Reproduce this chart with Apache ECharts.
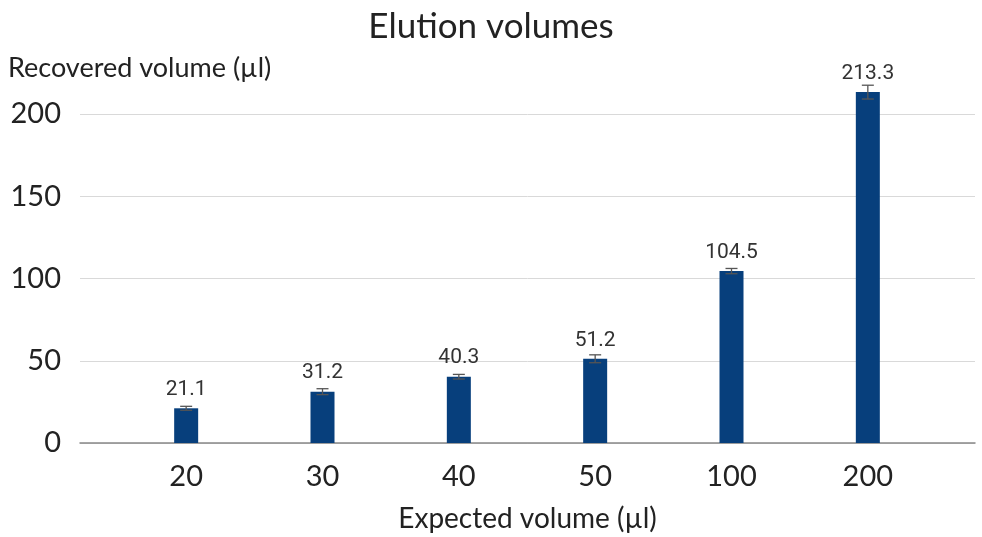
<!DOCTYPE html>
<html><head><meta charset="utf-8">
<script src="https://cdn.jsdelivr.net/npm/echarts@6/dist/echarts.min.js"></script>
<style>html,body{margin:0;padding:0;background:#fff}#c{width:982px;height:537px}</style>
</head><body><div id="c"></div>
<script>
const categories = ['20', '30', '40', '50', '100', '200'];
const recovered = [21.1, 31.2, 40.3, 51.2, 104.5, 213.3];
const errors = [1.2, 1.8, 1.4, 2.4, 1.6, 4.2];
const yTicks = [0, 50, 100, 150, 200];

const chart = echarts.init(document.getElementById('c'));
const font = 'Lato, "Open Sans", sans-serif';
chart.setOption({
  animation: false,
  title: {
    text: 'Elution volumes', left: 'center', top: 4,
    textStyle: { fontFamily: font, fontSize: 35, fontWeight: 'normal', color: '#222' }
  },
  grid: [
    { left: 80, right: 7, top: 114, bottom: 94, outerBoundsMode: 'none', containLabel: false },
    { left: 118, right: 46, top: 114, bottom: 94, outerBoundsMode: 'none', containLabel: false }
  ],
  xAxis: [
    { gridIndex: 0, type: 'value', min: 0, max: 1, show: true,
      axisLine: { show: true, onZero: false, lineStyle: { color: '#888', width: 1.5 } },
      axisTick: { show: false }, axisLabel: { show: false }, splitLine: { show: false },
      name: 'Expected volume (µl)', nameLocation: 'middle', nameGap: 62,
      nameTextStyle: { fontFamily: font, fontSize: 28, color: '#222' } },
    { gridIndex: 1, type: 'category', data: categories,
      axisLine: { show: false }, axisTick: { show: false },
      axisLabel: { fontFamily: font, fontSize: 29, color: '#222', margin: 19 } }
  ],
  yAxis: [
    { gridIndex: 0, type: 'value', min: yTicks[0], max: yTicks[yTicks.length - 1], interval: 50,
      axisLine: { show: false }, axisTick: { show: false },
      axisLabel: { fontFamily: font, fontSize: 29, color: '#222', margin: 19 },
      splitLine: { lineStyle: { color: '#d9d9d9', width: 1 } },
      name: 'Recovered volume (µl)', nameLocation: 'end', nameGap: 32,
      nameTextStyle: { fontFamily: font, fontSize: 27, color: '#222', align: 'left', padding: [0, 0, 0, -72] } },
    { gridIndex: 1, type: 'value', min: 0, max: 200, interval: 50, show: false, splitLine: { show: false } }
  ],
  series: [
    { type: 'bar', xAxisIndex: 1, yAxisIndex: 1, data: recovered, barWidth: 24, clip: false,
      itemStyle: { color: '#073f7c' },
      label: { show: true, position: 'top', distance: 8, fontFamily: 'Roboto, sans-serif', fontSize: 21, color: '#333',
        formatter: p => p.value.toFixed(1) } },
    { type: 'custom', xAxisIndex: 1, yAxisIndex: 1, clip: false, z: 5,
      data: recovered.map((v, i) => [i, v - errors[i], v + errors[i]]),
      renderItem: function (params, api) {
        const lo = api.coord([api.value(0), api.value(1)]);
        const hi = api.coord([api.value(0), api.value(2)]);
        const hw = 6;
        const st = { stroke: '#555', lineWidth: 1.3 };
        return { type: 'group', children: [
          { type: 'line', shape: { x1: hi[0], y1: hi[1], x2: lo[0], y2: lo[1] }, style: st },
          { type: 'line', shape: { x1: hi[0] - hw, y1: hi[1], x2: hi[0] + hw, y2: hi[1] }, style: st },
          { type: 'line', shape: { x1: lo[0] - hw, y1: lo[1], x2: lo[0] + hw, y2: lo[1] }, style: st }
        ] };
      } }
  ]
});
</script></body></html>
